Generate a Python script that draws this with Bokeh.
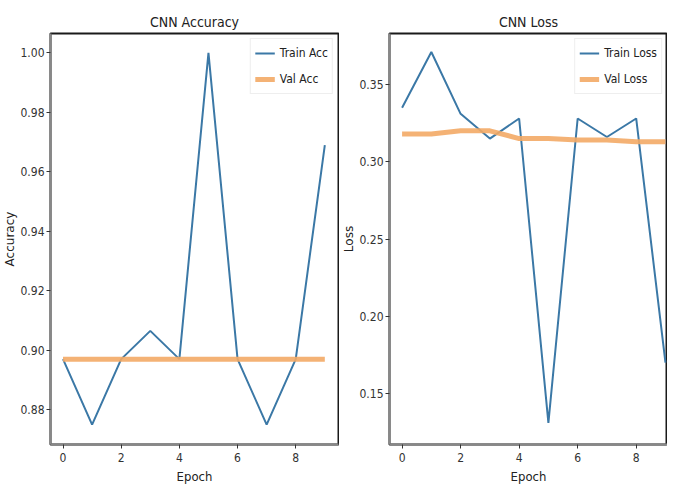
from bokeh.plotting import figure
from bokeh.layouts import row
from bokeh.models import Range1d, FixedTicker, Legend, LegendItem, NumeralTickFormatter
from bokeh.embed import file_html
from bokeh.resources import INLINE

epochs = [0, 1, 2, 3, 4, 5, 6, 7, 8, 9]
train_acc = [0.897, 0.875, 0.897, 0.9065, 0.897, 1.0, 0.897, 0.875, 0.897, 0.969]
val_acc = [0.897, 0.897, 0.897, 0.897, 0.897, 0.897, 0.897, 0.897, 0.897, 0.897]
train_loss = [0.335, 0.371, 0.331, 0.315, 0.328, 0.131, 0.328, 0.316, 0.328, 0.170]
val_loss = [0.318, 0.318, 0.320, 0.320, 0.315, 0.315, 0.314, 0.314, 0.313, 0.313]
acc_ticks = [0.88, 0.90, 0.92, 0.94, 0.96, 0.98, 1.00]
loss_ticks = [0.15, 0.20, 0.25, 0.30, 0.35]
x_ticks = [0, 2, 4, 6, 8]

NARROW = "DejaVu Sans Condensed"
WIDE = "DejaVu Sans"
TRAIN_C = "#3b78a6"
VAL_C = "#f3aa66"


def make(title, ylabel, ytr, yva, yticks, yrange, xrange, width, lbl_tr, lbl_va, bl, br):
    p = figure(width=width, height=487, output_backend="svg", toolbar_location=None,
               x_range=Range1d(*xrange), y_range=Range1d(*yrange),
               min_border_left=bl, min_border_right=br, min_border_top=33, min_border_bottom=43)
    p.title.text = title
    p.title.align = "center"
    p.title.text_font = NARROW
    p.title.text_font_size = "14px"
    p.title.text_font_style = "normal"
    p.title.text_color = "#222222"
    p.title.offset = 0
    p.title.standoff = 8
    p.xgrid.visible = False
    p.ygrid.visible = False
    p.outline_line_color = "#1a1a1a"
    p.outline_line_width = 2
    for ax in (p.xaxis[0], p.yaxis[0]):
        ax.axis_line_color = "#888888"
        ax.axis_line_width = 2
        ax.major_tick_line_color = "#333333"
        ax.major_tick_out = 4
        ax.major_tick_in = 0
        ax.minor_tick_line_color = None
        ax.major_label_text_font = NARROW
        ax.major_label_text_font_size = "12px"
        ax.major_label_text_color = "#333333"
        ax.major_label_standoff = 2
        ax.axis_label_text_font_style = "normal"
        ax.axis_label_text_color = "#222222"
    p.xaxis.major_label_standoff = 4
    p.xaxis.ticker = FixedTicker(ticks=x_ticks)
    p.yaxis.ticker = FixedTicker(ticks=yticks)
    p.yaxis.formatter = NumeralTickFormatter(format="0.00")
    p.xaxis.axis_label = "Epoch"
    p.xaxis.axis_label_text_font = NARROW
    p.xaxis.axis_label_text_font_size = "13px"
    p.xaxis.axis_label_standoff = 4
    p.yaxis.axis_label = ylabel
    p.yaxis.axis_label_text_font = WIDE
    p.yaxis.axis_label_text_font_size = "12px"
    p.yaxis.axis_label_standoff = 0

    r1 = p.line(epochs, ytr, line_color=TRAIN_C, line_width=2)
    r2 = p.line(epochs, yva, line_color=VAL_C, line_width=5, line_alpha=0.9)
    leg = Legend(items=[LegendItem(label=lbl_tr, renderers=[r1]),
                        LegendItem(label=lbl_va, renderers=[r2])],
                 location="top_right")
    leg.label_text_font = NARROW
    leg.label_text_font_size = "12px"
    leg.label_text_color = "#222222"
    leg.border_line_color = "#dddddd"
    leg.border_line_width = 1
    leg.margin = 5
    leg.padding = 4
    leg.spacing = 6
    leg.glyph_width = 20
    leg.glyph_height = 20
    leg.label_height = 20
    leg.label_standoff = 5
    leg.background_fill_alpha = 0.85
    p.add_layout(leg)
    return p


p1 = make("CNN Accuracy", "Accuracy", train_acc, val_acc, acc_ticks, (0.8683, 1.0065),
          (-0.43, 9.47), 339, "Train Acc", "Val Acc", 41, 1)
p2 = make("CNN Loss", "Loss", train_loss, val_loss, loss_ticks, (0.117, 0.383),
          (-0.43, 9.07), 328, "Train Loss", "Val Loss", 43, 0)

layout = row(p1, p2)
open("out.html", "w").write(file_html(layout, INLINE))
